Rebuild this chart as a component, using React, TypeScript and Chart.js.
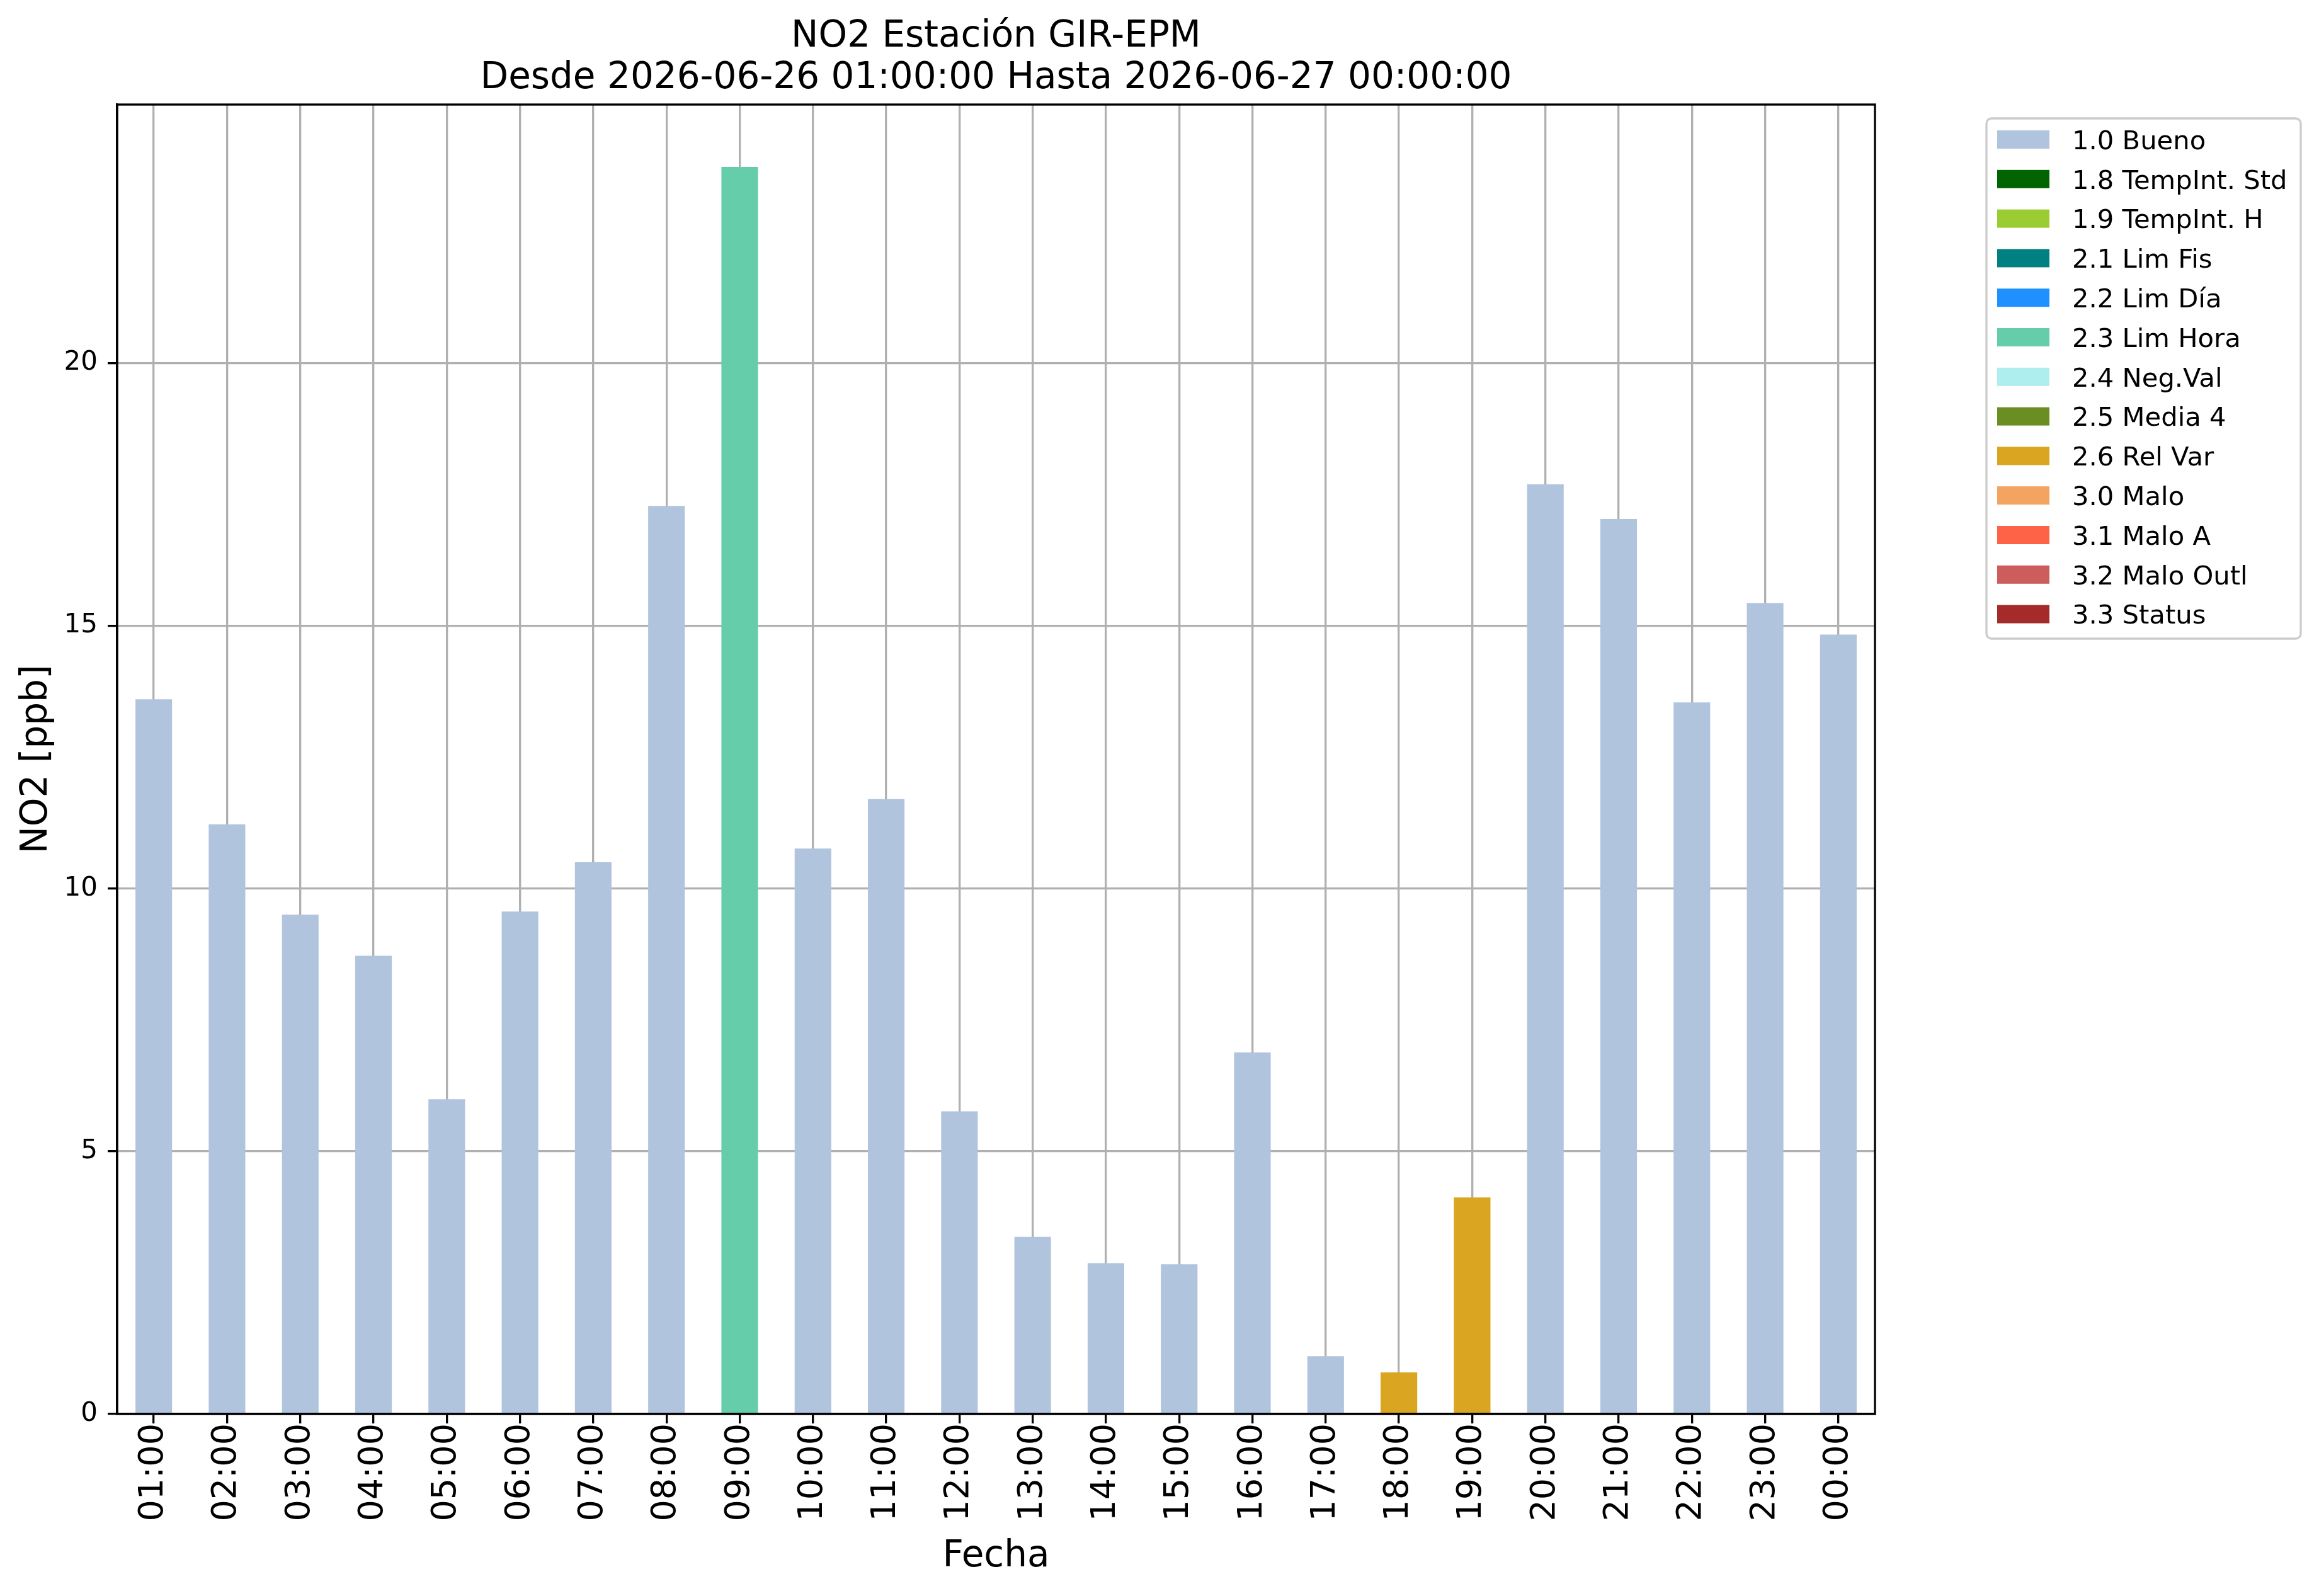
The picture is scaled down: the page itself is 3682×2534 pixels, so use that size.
import { useEffect, useRef } from 'react';
import { Chart, registerables } from 'chart.js';
import type { Plugin } from 'chart.js';

Chart.register(...registerables);

const hours = [
  '01:00', '02:00', '03:00', '04:00', '05:00', '06:00', '07:00', '08:00',
  '09:00', '10:00', '11:00', '12:00', '13:00', '14:00', '15:00', '16:00',
  '17:00', '18:00', '19:00', '20:00', '21:00', '22:00', '23:00', '00:00',
];

const no2Values = [
  13.60, 11.22, 9.50, 8.72, 5.99, 9.56, 10.50, 17.28,
  23.73, 10.76, 11.70, 5.76, 3.37, 2.87, 2.85, 6.88,
  1.10, 0.79, 4.12, 17.69, 17.03, 13.54, 15.43, 14.83,
];

// quality flag of each hour
const qualityFlags = [
  '1.0', '1.0', '1.0', '1.0', '1.0', '1.0', '1.0', '1.0',
  '2.3', '1.0', '1.0', '1.0', '1.0', '1.0', '1.0', '1.0',
  '1.0', '2.6', '2.6', '1.0', '1.0', '1.0', '1.0', '1.0',
];

const flagCodes = ['1.0', '1.8', '1.9', '2.1', '2.2', '2.3', '2.4', '2.5', '2.6', '3.0', '3.1', '3.2', '3.3'];
const flagNames = [
  '1.0 Bueno', '1.8 TempInt. Std', '1.9 TempInt. H', '2.1 Lim Fis', '2.2 Lim Día',
  '2.3 Lim Hora', '2.4 Neg.Val', '2.5 Media 4', '2.6 Rel Var', '3.0 Malo',
  '3.1 Malo A', '3.2 Malo Outl', '3.3 Status',
];
const flagColors = [
  '#b0c4de', '#006400', '#9acd32', '#008080', '#1e90ff',
  '#66cdaa', '#afeeee', '#6b8e23', '#daa520', '#f4a460',
  '#ff6347', '#cd5c5c', '#a52a2a',
];

const titleLines = ['NO2 Estación GIR-EPM', 'Desde 2026-06-26 01:00:00 Hasta 2026-06-27 00:00:00'];

const W = 3682;
const H = 2534;
const FONT = '"DejaVu Sans", "Liberation Sans", sans-serif';
const LW = 3.33;

// title centred over the axes, not the whole canvas
const axesTitle: Plugin<'bar'> = {
  id: 'axesTitle',
  afterDraw(chart) {
    const { ctx, chartArea: a } = chart;
    ctx.save();
    ctx.font = `58px ${FONT}`;
    ctx.fillStyle = '#000';
    ctx.textAlign = 'center';
    ctx.textBaseline = 'alphabetic';
    const cx = (a.left + a.right) / 2;
    ctx.fillText(titleLines[0], cx, 74);
    ctx.fillText(titleLines[1], cx, 140);
    ctx.restore();
  },
};

// top and right spines
const frame: Plugin<'bar'> = {
  id: 'frame',
  afterDraw(chart) {
    const { ctx, chartArea: a } = chart;
    ctx.save();
    ctx.strokeStyle = '#000';
    ctx.lineWidth = LW;
    ctx.strokeRect(a.left, a.top, a.right - a.left, a.bottom - a.top);
    ctx.restore();
  },
};

// legend to the right of the axes, like matplotlib's bbox_to_anchor
const sideLegend: Plugin<'bar'> = {
  id: 'sideLegend',
  afterDraw(chart) {
    const { ctx } = chart;
    const x0 = 3154, y0 = 188, bw = 499, bh = 826;
    const row = 62.8;
    const fs = 41.7;
    ctx.save();
    ctx.fillStyle = 'rgba(255,255,255,0.8)';
    ctx.strokeStyle = '#cccccc';
    ctx.lineWidth = LW;
    ctx.beginPath();
    ctx.roundRect(x0, y0, bw, bh, 8);
    ctx.fill();
    ctx.stroke();
    ctx.font = `${fs}px ${FONT}`;
    ctx.textAlign = 'left';
    ctx.textBaseline = 'alphabetic';
    chart.data.datasets.forEach((ds, i) => {
      const cy = 221.5 + i * row;
      ctx.fillStyle = ds.backgroundColor as string;
      ctx.fillRect(3171, cy - 14.5, 83, 29);
      ctx.fillStyle = '#000';
      ctx.fillText(ds.label ?? '', 3290, cy + 0.365 * fs);
    });
    ctx.restore();
  },
};

export default function App() {
  const chartRef = useRef<HTMLCanvasElement>(null);
  const chartInstance = useRef<Chart | null>(null);

  useEffect(() => {
    document.body.style.margin = '0';
    if (!chartRef.current) return;

    if (chartInstance.current) {
      chartInstance.current.destroy();
    }

    const ctx = chartRef.current.getContext('2d');
    if (!ctx) return;

    const datasets = flagCodes.map((code, k) => ({
      label: flagNames[k],
      data: no2Values.map((v, i) => (qualityFlags[i] === code ? v : null)),
      backgroundColor: flagColors[k],
      borderWidth: 0,
      barPercentage: 0.5,
      categoryPercentage: 1,
    }));

    chartInstance.current = new Chart(ctx, {
      type: 'bar',
      data: { labels: hours, datasets },
      plugins: [axesTitle, frame, sideLegend],
      options: {
        responsive: false,
        animation: false,
        devicePixelRatio: 1,
        layout: { padding: { left: 0, right: W - 2977, top: 166, bottom: 0 } },
        plugins: {
          legend: { display: false },
          tooltip: { enabled: false },
          title: { display: false },
        },
        scales: {
          x: {
            stacked: true,
            offset: true,
            z: 1,
            afterFit: (scale) => { scale.height = H - 2245; },
            grid: {
              offset: false,
              color: '#b0b0b0',
              lineWidth: LW,
              tickColor: '#000',
              tickWidth: LW,
              tickLength: 15,
            },
            border: { display: true, color: '#000', width: LW },
            ticks: {
              color: '#000',
              font: { family: FONT, size: 54 },
              minRotation: 90,
              maxRotation: 90,
              autoSkip: false,
              padding: 0,
            },
            title: {
              display: true,
              text: 'Fecha',
              color: '#000',
              font: { family: FONT, size: 58, lineHeight: 1.2 },
              padding: { top: 0, bottom: 27 },
            },
          },
          y: {
            stacked: true,
            min: 0,
            max: Math.max(...no2Values) * 1.05,
            z: 1,
            afterFit: (scale) => { scale.width = 186; },
            grid: {
              color: '#b0b0b0',
              lineWidth: LW,
              tickColor: '#000',
              tickWidth: LW,
              tickLength: 15,
            },
            border: { display: true, color: '#000', width: LW },
            ticks: {
              stepSize: 5,
              includeBounds: false,
              color: '#000',
              font: { family: FONT, size: 42 },
              padding: 16,
            },
            title: {
              display: true,
              text: 'NO2 [ppb]',
              color: '#000',
              font: { family: FONT, size: 58, lineHeight: 1.2 },
              padding: { top: 24, bottom: 0 },
            },
          },
        },
      },
    });

    return () => {
      if (chartInstance.current) {
        chartInstance.current.destroy();
        chartInstance.current = null;
      }
    };
  }, []);

  return (
    <div style={{ width: W, height: H }}>
      <canvas ref={chartRef} width={W} height={H} style={{ display: 'block', width: W, height: H }} />
    </div>
  );
}
